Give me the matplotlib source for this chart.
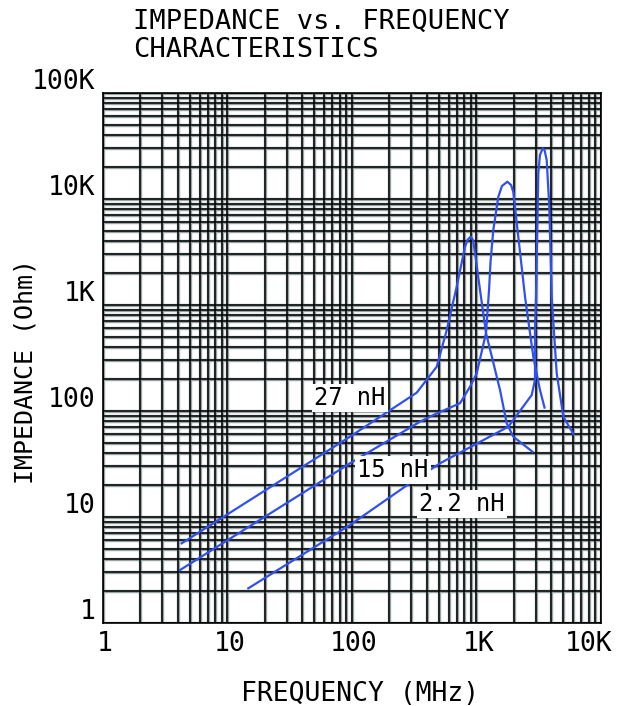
import numpy as np
import matplotlib
matplotlib.use("Agg")
import matplotlib.pyplot as plt
from matplotlib.transforms import offset_copy

plt.rcParams['font.family'] = ['DejaVu Sans Mono', 'DejaVu Sans']

# ---- data (frequency in MHz, impedance in Ohm) ----
freq_27 = [4.31, 96.9, 333, 482, 580, 697, 813, 851, 903, 944, 978, 1073, 1199, 1553, 1758, 1986, 2833]
imp_27 = [5.61, 56.9, 148, 260, 577, 1479, 3524, 4077, 4383, 4077, 3075, 1376, 541, 157, 76, 56.9, 41]

freq_15 = [4.18, 96.9, 354, 452, 741, 892, 1009, 1199, 1268, 1303, 1372, 1506, 1611, 1778, 1905, 1986, 2466, 2875, 3253, 3538]
imp_15 = [3.14, 31.9, 78.8, 91, 117.5, 168.4, 225, 541, 1376, 2529, 5070, 10440, 13180, 14460, 13470, 11560, 1189, 323, 157, 107]

freq_22 = [14.77, 96.9, 294, 512, 1811, 2792, 2966, 2966, 3022, 3155, 3253, 3420, 3538, 3683, 3865, 4038, 4433, 5012, 6026]
imp_22 = [2.11, 8.35, 20.7, 31.9, 70.6, 140.6, 195, 577, 1189, 17370, 25840, 29870, 28790, 23190, 8410, 1189, 225, 87.8, 60.3]

series_labels = ["27 nH", "15 nH", "2.2 nH"]
label_pos_freq = [97, 215, 769]
label_pos_imp = [132, 27.6, 13.2]

x_ticks = [1, 10, 100, 1000, 10000]
x_ticklabels = ["1", "10", "100", "1K", "10K"]
y_ticks = [1, 10, 100, 1000, 10000, 100000]
y_ticklabels = ["1", "10", "100", "1K", "10K", "100K"]

title = "IMPEDANCE vs. FREQUENCY\nCHARACTERISTICS"
xlabel = "FREQUENCY (MHz)"
ylabel = "IMPEDANCE (Ohm)"

# ---- figure ----
W, H = 624, 706
fig = plt.figure(figsize=(W / 100, H / 100), dpi=100)
ax = fig.add_axes([102.7 / W, 1 - 622.7 / H, 498 / W, 530 / H])
ax.set_xscale('log')
ax.set_yscale('log')
ax.set_xlim(1, 10000)
ax.set_ylim(1, 100000)

# chart-paper grid
gx = [m * 10 ** e for e in range(0, 4) for m in range(1, 10)] + [10000]
gy = [m * 10 ** e for e in range(0, 5) for m in range(1, 10)] + [100000]
for v in gx:
    ax.axvline(v, color='#9aa3a3', lw=2.4, zorder=1)
for v in gy:
    ax.axhline(v, color='#9aa3a3', lw=2.4, zorder=1)
for v in gx:
    ax.axvline(v, color='black', lw=1.1, zorder=2)
for v in gy:
    ax.axhline(v, color='black', lw=1.1, zorder=2)

for s in ax.spines.values():
    s.set_color('black')
    s.set_linewidth(1.2)
ax.tick_params(which='both', length=0, labelbottom=False, labelleft=False)
ax.set_xticks([])
ax.set_yticks([])
ax.minorticks_off()

blue = '#3050f0'
for f, z in [(freq_27, imp_27), (freq_15, imp_15), (freq_22, imp_22)]:
    ax.plot(f, z, color=blue, lw=1.6, solid_joinstyle='round', zorder=4)

for lab, fx, fy in zip(series_labels, label_pos_freq, label_pos_imp):
    ax.text(fx, fy, lab, fontsize=17, ha='center', va='center', zorder=5,
            bbox=dict(facecolor='white', edgecolor='none', pad=1.5))

# tick labels
ty = offset_copy(ax.get_yaxis_transform(), fig=fig, x=-7, y=4, units='dots')
for v, t in zip(y_ticks, y_ticklabels):
    ax.text(0, v, t, transform=ty, ha='right', va='baseline', fontsize=19)
tx = offset_copy(ax.get_xaxis_transform(), fig=fig, x=2, y=-28, units='dots')
for v, t in zip(x_ticks[:-1], x_ticklabels[:-1]):
    ax.text(v, 0, t, transform=tx, ha='center', va='baseline', fontsize=19)
tx_last = offset_copy(ax.get_xaxis_transform(), fig=fig, x=12, y=-28, units='dots')
ax.text(x_ticks[-1], 0, x_ticklabels[-1], transform=tx_last, ha='right', va='baseline', fontsize=19)

fig.text(133 / W, 1 - 29 / H, title.split("\n")[0], fontsize=19.5, ha='left', va='baseline')
fig.text(133 / W, 1 - 57 / H, title.split("\n")[1], fontsize=19.5, ha='left', va='baseline')
fig.text(360 / W, 1 - 701 / H, xlabel, fontsize=19, ha='center', va='baseline')
fig.text(26 / W, 1 - 372 / H, ylabel, fontsize=18, ha='center', va='center', rotation=90)

fig.savefig('out.png', dpi=100)
